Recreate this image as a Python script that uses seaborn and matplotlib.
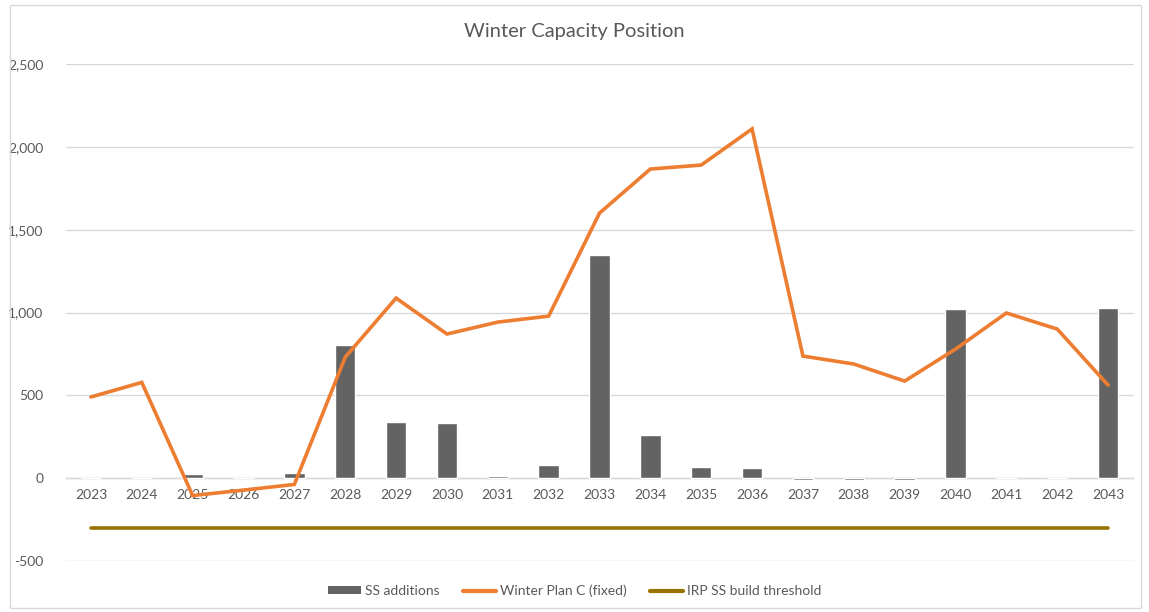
import numpy as np
import pandas as pd
import matplotlib
matplotlib.use("Agg")
import matplotlib.pyplot as plt
from matplotlib.patches import Rectangle
from matplotlib.lines import Line2D
from matplotlib.patches import Patch
import seaborn as sns

years = [str(y) for y in range(2023, 2044)]
ss_additions = [0, 0, 25, 0, 30, 803, 338, 332, 12, 78, 1347, 260, 66, 60,
                -12, -12, -12, 1020, 0, 0, 1027]
winter_plan_c = [490, 578, -105, -72, -38, 730, 1087, 870, 942, 978, 1600,
                 1866, 1890, 2108, 737, 689, 586, 779, 997, 900, 562]
build_threshold = [-300] * 21

BAR_COLOR = "#636363"
LINE_COLOR = "#ED7D31"
THRESH_COLOR = "#997300"
TEXT_COLOR = "#595959"
GRID_COLOR = "#D9D9D9"
LW = 2.6

sns.set_theme(style="white")
plt.rcParams["font.family"] = ["Lato", "DejaVu Sans"]

df = pd.DataFrame({
    "year": years,
    "pos": np.arange(len(years)),
    "ss": ss_additions,
    "plan": winter_plan_c,
    "thresh": build_threshold,
})

fig = plt.figure(figsize=(11.49, 6.12), dpi=100)
ax = fig.add_axes([65.5 / 1149, 1 - 561 / 612, (1133.5 - 65.5) / 1149, (561 - 64) / 612])

sns.barplot(data=df, x="pos", y="ss", color=BAR_COLOR, width=0.4,
            saturation=1, ax=ax, zorder=2)
sns.lineplot(data=df, x="pos", y="plan", color=LINE_COLOR, linewidth=LW,
             ax=ax, zorder=3, solid_capstyle="round", solid_joinstyle="miter")
sns.lineplot(data=df, x="pos", y="thresh", color=THRESH_COLOR, linewidth=LW,
             ax=ax, zorder=3, solid_capstyle="round")

ax.set_xlim(-0.5, len(years) - 0.5)
ax.set_ylim(-500, 2500)
ax.set_yticks(np.arange(-500, 2501, 500))
ax.set_yticklabels([f"{v:,}" for v in np.arange(-500, 2501, 500)])
ax.set_xticks(df["pos"])
ax.set_xticklabels(years)
ax.set_xlabel("")
ax.set_ylabel("")

ax.grid(axis="y", color=GRID_COLOR, linewidth=1)
ax.set_axisbelow(True)
for side in ["top", "right", "left"]:
    ax.spines[side].set_visible(False)
ax.spines["bottom"].set_position(("data", 0))
ax.spines["bottom"].set_color(GRID_COLOR)
ax.spines["bottom"].set_linewidth(1)
ax.spines["bottom"].set_zorder(1)
ax.tick_params(axis="x", length=0, pad=8, labelsize=10, labelcolor=TEXT_COLOR)
ax.tick_params(axis="y", length=0, pad=16, labelsize=10, labelcolor=TEXT_COLOR)

fig.text(0.5, 1 - 32 / 612, "Winter Capacity Position", ha="center", va="center",
         fontsize=14.5, color=TEXT_COLOR)

handles = [
    Patch(facecolor=BAR_COLOR, edgecolor="none"),
    Line2D([0], [0], color=LINE_COLOR, linewidth=LW + 0.4),
    Line2D([0], [0], color=THRESH_COLOR, linewidth=LW + 0.4),
]
labels = ["SS additions", "Winter Plan C (fixed)", "IRP SS build threshold"]
fig.legend(handles, labels, loc="center", bbox_to_anchor=(0.5, 1 - 591 / 612),
           ncol=3, frameon=False, fontsize=10, labelcolor=TEXT_COLOR,
           handlelength=2.4, handleheight=0.5, handletextpad=0.25,
           columnspacing=1.7)

fig.patches.append(Rectangle((10 / 1149, 4 / 612), 1131 / 1149, 603 / 612,
                             transform=fig.transFigure, fill=False,
                             edgecolor=GRID_COLOR, linewidth=1))

fig.savefig("out.png", dpi=100)
